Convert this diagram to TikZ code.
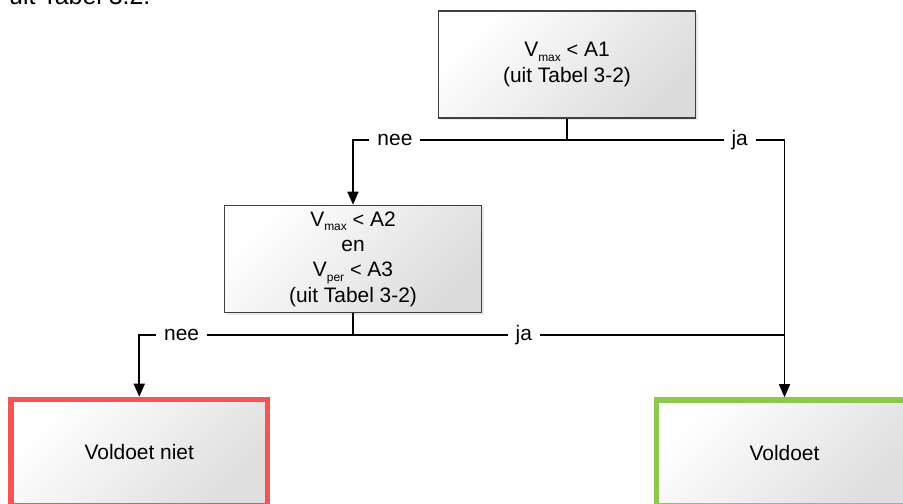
\documentclass[tikz,border=0pt]{standalone}
\usepackage{fontspec}
\setmainfont{Liberation Sans}
\usetikzlibrary{arrows.meta,shadows}
\newcommand\subtx[1]{\raisebox{-0.22em}{\fontsize{12}{12}\selectfont #1}}
\begin{document}
\begin{tikzpicture}[x=1bp,y=-1bp,
  box/.style={draw=black!75, line width=1.6bp, top color=white, bottom color=black!14,
    shading angle=45, minimum width=257bp, minimum height=107bp, align=center,
    inner sep=0pt, font=\fontsize{21}{25.5}\selectfont,
    drop shadow={shadow xshift=2bp, shadow yshift=-2bp, opacity=0.18}},
  endbox/.style={line width=5.5bp, top color=white, bottom color=black!13,
    shading angle=45, minimum width=256bp, minimum height=106bp,
    inner sep=0pt, font=\fontsize{21}{25.5}\selectfont},
  conn/.style={draw=black, line width=1.6bp},
  arr/.style={conn, -{Triangle[length=13bp,width=11bp]}},
  lbl/.style={fill=white, inner xsep=8bp, inner ysep=2bp, font=\fontsize{21}{25.5}\selectfont}]
\useasboundingbox (0,0) rectangle (903,504);
\clip (0,0) rectangle (903,504);
\node[anchor=base west, inner sep=0pt, font=\fontsize{25}{30}\selectfont] (hdr) at (9,5) {uit Tabel 3.2.};

\node[box] (t) at (567,64.5) {V\subtx{max} {\fontsize{20}{20}\selectfont<} A1\\(uit Tabel 3-2)};
\node[box] (m) at (353,259) {V\subtx{max} {\fontsize{20}{20}\selectfont<} A2\\en\\V\subtx{per} {\fontsize{20}{20}\selectfont<} A3\\(uit Tabel 3-2)};
\node[endbox, draw={rgb,255:red,242;green,85;blue,85}] (r) at (139.25,452.5) {Voldoet niet};
\node[endbox, draw={rgb,255:red,140;green,200;blue,80}] (g) at (784.5,453) {Voldoet};

\coordinate (tj) at (567,140);
\coordinate (mj) at (353,335);
\draw[conn] (t.south) -- (tj);
\draw[arr] (tj) -| node[lbl, pos=0.402] {nee} (m.north);
\draw[arr] (tj) -| node[lbl, pos=0.397] {ja} (g.north);
\draw[conn] (m.south) -- (mj);
\draw[arr] (mj) -| node[lbl, pos=0.401] {nee} (r.north);
\draw[conn] (mj) -- node[lbl, pos=0.396] {ja} (mj -| g.north);
\end{tikzpicture}
\end{document}
